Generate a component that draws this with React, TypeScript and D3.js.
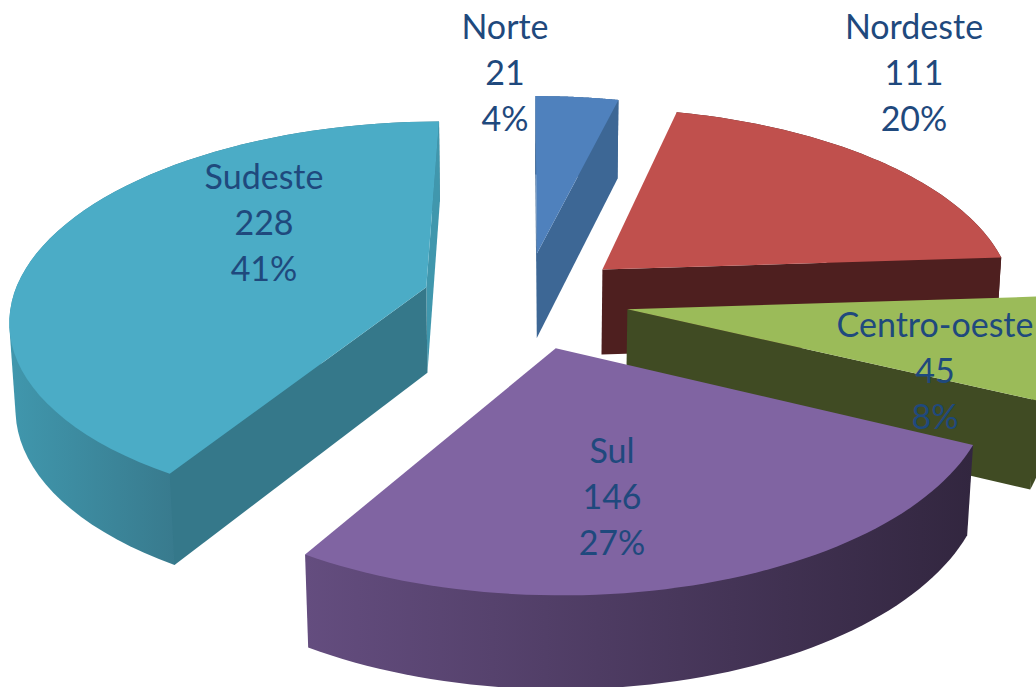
import React from 'react';
import * as d3 from 'd3';

// chart data
const regions = ['Norte', 'Nordeste', 'Centro-oeste', 'Sul', 'Sudeste'];
const counts = [21, 111, 45, 146, 228];
const percents = ['4%', '20%', '8%', '27%', '41%'];

// colours per slice
const topColors = ['#4f81bd', '#c0504d', '#9bbb59', '#8064a2', '#4bacc6'];
const wallColors = ['#3d6795', '#4e1f1f', '#404b23', '#32263f', '#35788a'];
const rimFrom = ['#3d6795', '#4e1f1f', '#404b23', '#644d7f', '#4097ad'];
const rimTo = ['#3d6795', '#4e1f1f', '#404b23', '#32263f', '#38798c'];
const rimStop = [1, 1, 1, 1, 0.4];
const backWall = '#4097ad';
const textColor = '#1f497d';

// label anchors, in px
const labelX = [505, 914, 935, 612, 264];
const labelY = [39, 39, 337, 463, 189];

// slices painted far to near
const paintOrder = [0, 4, 1, 2, 3];

const W = 1036;
const H = 687;

// projection of the tilted pie
const cx = 525;
const cy = 300;
const Rx = 414;
const Ry = 194;
const depth = 0.15;
const thick = 86;
const explode = 0.25;

function project(x: number, y: number, z: number): [number, number] {
  const w = 1 + depth * y + 0.012 * z;
  return [cx + (Rx * x) / w, cy - (Ry * y) / w + (thick * z) / (1 + 0.1 * y)];
}

const toPath = d3.line();
const closed = (pts: [number, number][]) => toPath(pts)! + 'Z';

export default function App() {
  const arcs = d3.pie<number>().sort(null)(counts);

  const slices = arcs.map((a, i) => {
    const mid = (a.startAngle + a.endAngle) / 2;
    const ox = explode * Math.sin(mid);
    const oy = explode * Math.cos(mid);
    const at = (t: number, r: number, z: number) =>
      project(ox + r * Math.sin(t), oy + r * Math.cos(t), z);
    const angles = d3.range(0, 61).map(k => a.startAngle + ((a.endAngle - a.startAngle) * k) / 60);

    const topArc = angles.map(t => at(t, 1, 0));
    const botArc = angles.map(t => at(t, 1, 1));
    const startWall = [at(0, 0, 0), at(a.startAngle, 1, 0), at(a.startAngle, 1, 1), at(0, 0, 1)];
    const endWall = [at(0, 0, 0), at(a.endAngle, 1, 0), at(a.endAngle, 1, 1), at(0, 0, 1)];
    return {
      top: closed([at(0, 0, 0), ...topArc]),
      // hull keeps the side silhouette straight where top and bottom arcs cross
      rim: closed(d3.polygonHull([...topArc, ...botArc])!),
      startWall: closed(startWall),
      endWall: closed(endWall),
      // walls turned away from the viewer are skipped
      showStart: d3.polygonArea(startWall) > 0,
      showEnd: d3.polygonArea(endWall) < 0,
    };
  });

  return (
    <svg
      width={W}
      height={H}
      viewBox={`0 0 ${W} ${H}`}
      style={{ position: 'absolute', left: 0, top: 0, display: 'block', background: '#fff' }}
    >
      <defs>
        {regions.map((_, i) => (
          <linearGradient key={i} id={`rim${i}`} x1="0" x2="1" y1="0" y2="0">
            <stop offset="0" stopColor={rimFrom[i]} />
            <stop offset={rimStop[i]} stopColor={rimTo[i]} />
          </linearGradient>
        ))}
      </defs>

      {paintOrder.map(i => {
        const s = slices[i];
        return (
          <g key={regions[i]}>
            <path d={s.rim} fill={`url(#rim${i})`} />
            {s.showEnd && <path d={s.endWall} fill={i === 4 ? backWall : wallColors[i]} />}
            {s.showStart && <path d={s.startWall} fill={wallColors[i]} />}
            <path d={s.top} fill={topColors[i]} />
          </g>
        );
      })}

      {regions.map((name, i) => (
        <text
          key={name}
          x={labelX[i]}
          y={labelY[i]}
          textAnchor="middle"
          fontFamily="Lato, 'Open Sans', sans-serif"
          fontSize={34}
          fill={textColor}
        >
          <tspan x={labelX[i]}>{name}</tspan>
          <tspan x={labelX[i]} dy={46}>{counts[i]}</tspan>
          <tspan x={labelX[i]} dy={46}>{percents[i]}</tspan>
        </text>
      ))}
    </svg>
  );
}
